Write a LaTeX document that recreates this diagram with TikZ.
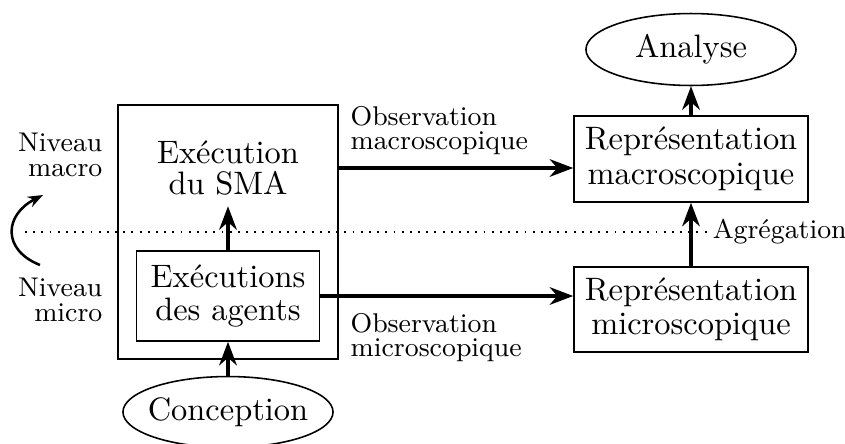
\documentclass[tikz,border=0pt]{standalone}
\usepackage{fontspec}
\usetikzlibrary{arrows.meta,shapes.geometric,calc}
\begin{document}
\begin{tikzpicture}[x=0.3175pt,y=-0.3175pt,
  boxst/.style={draw,line width=0.5pt,rectangle,align=center,inner xsep=2pt},
  ellst/.style={draw,line width=0.5pt,ellipse,inner xsep=-2pt,minimum width=66.7pt,minimum height=20pt,font=\fontsize{10.3}{10.8}\selectfont},
  smallst/.style={font=\fontsize{8.6}{7.8}\selectfont},
  arr/.style={line width=1pt,-{Stealth}},
]
\useasboundingbox (0,0) rectangle (845,443);
% left side
\node[draw,line width=0.5pt,minimum width=69.85pt,minimum height=80.65pt] (outer) at (228,232) {};
\node[align=center,font=\fontsize{10.3}{9.8}\selectfont] (sma) at (228,168) {Exécution\\du SMA};
\node[boxst,minimum width=58.1pt,minimum height=28.58pt,font=\fontsize{10.3}{10.4}\selectfont] (inner) at (228,296) {Exécutions\\des agents};
\node[ellst] (conc) at (228,412) {Conception};
% right side
\node[boxst,minimum width=74.3pt,minimum height=27.3pt,font=\fontsize{10.3}{11}\selectfont] (macro) at (691,159) {Représentation\\macroscopique};
\node[boxst,minimum width=74.3pt,minimum height=27pt,font=\fontsize{10.3}{10.8}\selectfont] (micro) at (691,309.5) {Représentation\\microscopique};
\node[ellst] (ana) at (691,49.5) {Analyse};
% labels
\node[smallst,align=right,anchor=east] (nmac) at (113.5,155) {Niveau\\macro};
\node[smallst,align=right,anchor=east] (nmic) at (113.5,300) {Niveau\\micro};
\node[smallst,align=left,anchor=west] (obsM) at (339.5,130.6) {Observation\\macroscopique};
\node[smallst,align=left,anchor=west] (obsm) at (339.5,337.7) {Observation\\microscopique};
\node[smallst,anchor=west,inner xsep=1pt] (agg) at (709,232) {Agrégation};
% dotted level separator
\coordinate (dl) at (25,232);
\draw[dotted,line width=0.6pt] (dl) -- (agg.west);
% arrows
\draw[arr] (conc.north) -- (conc.north |- inner.south);
\draw[arr] (inner.north) -- (inner.north |- sma.south);
\draw[arr] (sma.center -| outer.east) -- (sma.center -| macro.west);
\draw[arr] (inner.east) -- (inner.east -| micro.west);
\draw[arr] (micro.north) -- (macro.south);
\draw[arr] (macro.north) -- (ana.south);
% level change arrow
\coordinate (c1) at (40,265);
\coordinate (c2) at (43,195);
\draw[line width=0.8pt,-{Stealth[length=4.8pt,width=3.6pt]}] (c1) .. controls (2,250) and (4,215) .. (c2);
\end{tikzpicture}
\end{document}
